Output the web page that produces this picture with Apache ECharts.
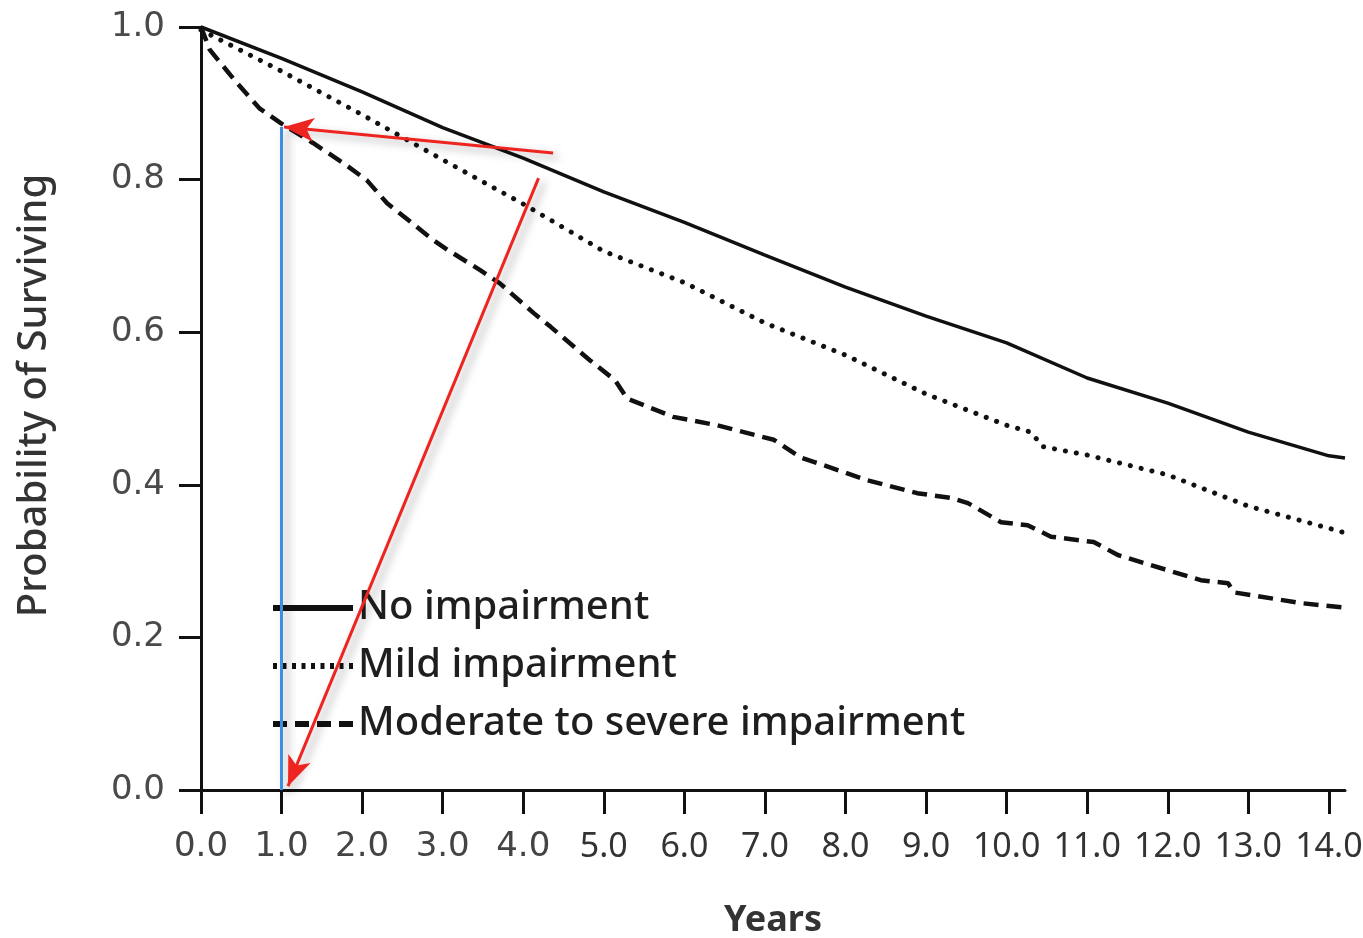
<!DOCTYPE html>
<html>
<head>
<meta charset="utf-8">
<title>Probability of Surviving</title>
<script src="https://cdn.jsdelivr.net/npm/echarts@6/dist/echarts.min.js"></script>
<style>
  html, body { margin: 0; padding: 0; background: #fff; }
  #main { width: 1363px; height: 938px; }
</style>
</head>
<body>
<div id="main"></div>
<script>
// x positions (years) and survival values
var noYears = [0, 1, 2, 3, 4, 5, 6, 7, 8, 9, 10, 11, 12, 13, 14, 14.2];
var noImpairment = [1.0, 0.959, 0.915, 0.868, 0.828, 0.784, 0.744, 0.701, 0.659, 0.621, 0.586, 0.540, 0.507, 0.469, 0.438, 0.435];

var mildYears = [0, 1, 2, 3, 4, 5, 6, 7, 8, 9, 10, 10.3, 10.45, 11, 12, 13, 14, 14.2];
var mildImpairment = [0.996, 0.942, 0.885, 0.826, 0.768, 0.706, 0.665, 0.612, 0.570, 0.519, 0.478, 0.469, 0.450, 0.439, 0.413, 0.372, 0.343, 0.337];

var modYears = [0, 0.11, 0.42, 0.73, 0.99, 1.39, 1.79, 2.06, 2.31, 2.88, 3.06, 3.47, 3.71, 4.13, 4.34, 4.83, 5.14, 5.29, 5.86, 6.41, 7.11, 7.44, 8.27, 8.89, 9.30, 9.52, 9.93, 10.26, 10.55, 11.08, 11.38, 12.0, 12.41, 12.75, 12.82, 13.65, 14.19];
var modImpairment = [1.0, 0.970, 0.930, 0.893, 0.874, 0.848, 0.820, 0.799, 0.769, 0.721, 0.708, 0.681, 0.664, 0.625, 0.607, 0.563, 0.537, 0.513, 0.489, 0.478, 0.459, 0.436, 0.406, 0.389, 0.383, 0.376, 0.351, 0.347, 0.332, 0.325, 0.308, 0.288, 0.275, 0.271, 0.259, 0.245, 0.239];

var xTicks = [0, 1, 2, 3, 4, 5, 6, 7, 8, 9, 10, 11, 12, 13, 14];
var seriesNames = ['No impairment', 'Mild impairment', 'Moderate to severe impairment'];

// annotation lines drawn over the chart: [from, to] in data coords
var blueLine = [[1.0, 0], [1.0, 0.869]];
var redArrows = [
    [[4.37, 0.835], [1.03, 0.869]],
    [[4.19, 0.802], [1.08, 0.005]]
];

function pairs(xs, ys) {
    return xs.map(function (x, i) { return [x, ys[i]]; });
}

// legend line icons (80 x 6 boxes)
function dashIcon(len, step) {
    var p = '';
    for (var x = 0; x + len <= 80.01; x += step) {
        p += 'M' + x + ',0h' + len + 'v6h-' + len + 'z';
    }
    return 'path://' + p;
}
var legendIcons = ['path://M0,0h80v6h-80z', dashIcon(4, 9.5), dashIcon(14, 22)];

var chart = echarts.init(document.getElementById('main'));

var shadow = { shadowBlur: 8, shadowColor: 'rgba(0,0,0,0.35)', shadowOffsetX: 5, shadowOffsetY: 4 };

chart.setOption({
    backgroundColor: '#fff',
    animation: false,
    grid: { left: 201, right: 18, top: 27, bottom: 148, outerBoundsMode: 'none', containLabel: false },
    legend: {
        orient: 'vertical',
        left: 268,
        top: 583,
        itemWidth: 80,
        itemHeight: 6,
        itemGap: 18,
        data: seriesNames.map(function (n, i) {
            return { name: n, icon: legendIcons[i], itemStyle: { color: '#111' } };
        }),
        textStyle: { fontFamily: 'Noto Sans', fontSize: 40, fontWeight: 500, color: '#1e1e1e' }
    },
    xAxis: {
        type: 'value',
        min: 0,
        max: 14.2,
        interval: 1,
        name: 'Years',
        nameLocation: 'middle',
        nameGap: 113,
        nameTextStyle: { fontFamily: 'Noto Sans', fontSize: 36, fontWeight: 'bold', color: '#333' },
        splitLine: { show: false },
        axisLine: { lineStyle: { color: '#111', width: 3 } },
        axisTick: { show: true, length: 24, lineStyle: { color: '#111', width: 3 }, customValues: xTicks },
        axisLabel: {
            margin: 40,
            customValues: xTicks,
            formatter: function (v) {
                return v < 5 ? '{a|' + v.toFixed(1) + '}' : '{b|' + v.toFixed(1) + '}';
            },
            rich: {
                a: { fontFamily: 'DejaVu Sans', fontSize: 34, color: '#444' },
                b: { fontFamily: 'Noto Sans', fontSize: 34, color: '#333' }
            }
        }
    },
    yAxis: {
        type: 'value',
        min: 0,
        max: 1,
        interval: 0.2,
        name: 'Probability of Surviving',
        nameLocation: 'middle',
        nameGap: 146,
        nameRotate: 90,
        nameTextStyle: { fontFamily: 'Noto Sans', fontSize: 40, fontWeight: 500, color: '#333', padding: [0, 0, 0, 26] },
        splitLine: { show: false },
        axisLine: { show: true, lineStyle: { color: '#111', width: 3 } },
        axisTick: { show: true, length: 22, lineStyle: { color: '#111', width: 3 } },
        axisLabel: {
            margin: 36,
            fontFamily: 'DejaVu Sans',
            fontSize: 34,
            color: '#4a4a4a',
            formatter: function (v) { return v.toFixed(1); }
        }
    },
    series: [
        {
            name: seriesNames[0],
            type: 'line',
            symbol: 'none',
            data: pairs(noYears, noImpairment),
            lineStyle: { color: '#111', width: 3.5 },
            itemStyle: { color: '#111' }
        },
        {
            name: seriesNames[1],
            type: 'line',
            symbol: 'none',
            data: pairs(mildYears, mildImpairment),
            lineStyle: { color: '#111', width: 5, type: [0.1, 11], cap: 'round' },
            itemStyle: { color: '#111' }
        },
        {
            name: seriesNames[2],
            type: 'line',
            symbol: 'none',
            data: pairs(modYears, modImpairment),
            lineStyle: { color: '#111', width: 4.5, type: [15, 8] },
            itemStyle: { color: '#111' },
            markLine: {
                silent: true,
                animation: false,
                label: { show: false },
                emphasis: { disabled: true },
                data: [
                    [
                        { coord: blueLine[0], symbol: 'none', lineStyle: Object.assign({ color: '#3b8fe3', width: 3, type: 'solid' }, shadow) },
                        { coord: blueLine[1], symbol: 'none' }
                    ]
                ].concat(redArrows.map(function (a) {
                    return [
                        { coord: a[0], symbol: 'none', lineStyle: Object.assign({ color: '#ee2420', width: 3, type: 'solid' }, shadow) },
                        { coord: a[1], symbol: 'arrow', symbolSize: [18, 30] }
                    ];
                }))
            }
        }
    ]
});
</script>
</body>
</html>
